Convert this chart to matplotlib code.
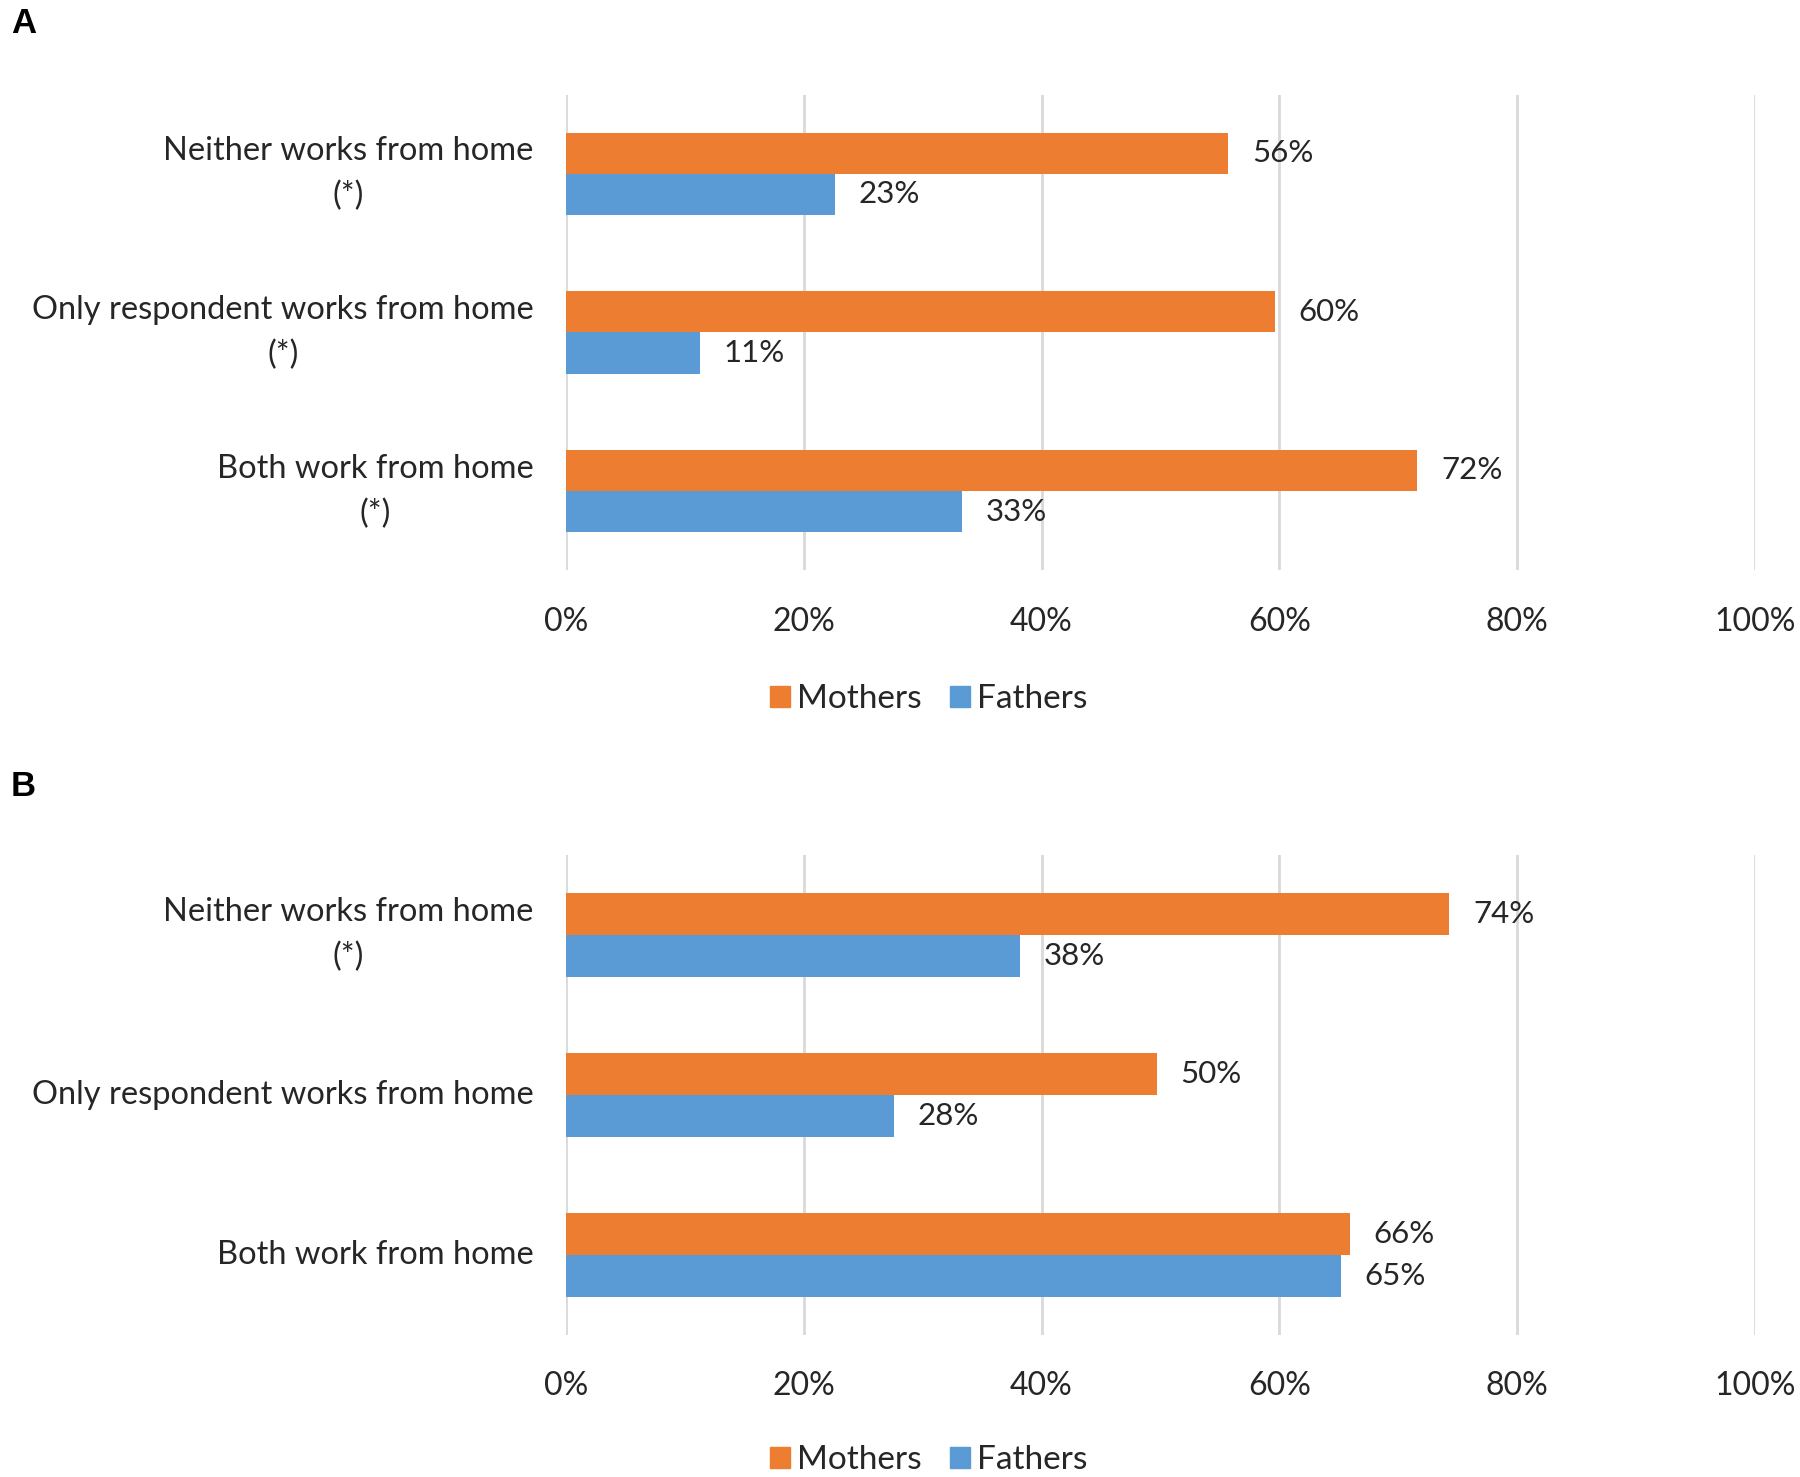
import matplotlib.pyplot as plt
import matplotlib.transforms as mtransforms
from matplotlib.patches import Patch

# values (percent); labels are the rounded values
cats_a = ["Neither works from home\n(*)", "Only respondent works from home\n(*)", "Both work from home\n(*)"]
mothers_a = [55.7, 59.6, 71.6]
fathers_a = [22.6, 11.3, 33.3]

cats_b = ["Neither works from home\n(*)", "Only respondent works from home", "Both work from home"]
mothers_b = [74.3, 49.7, 65.9]
fathers_b = [38.2, 27.6, 65.2]

x_ticks = [0, 20, 40, 60, 80, 100]
tick_labels = ["0%", "20%", "40%", "60%", "80%", "100%"]

orange = "#ED7D31"
blue = "#5B9BD5"
grid_col = "#D9D9D9"
txt_col = "#262626"

plt.rcParams['font.family'] = ['Lato', 'DejaVu Sans']

fig = plt.figure(figsize=(18, 14.77), dpi=100)


def draw_panel(ax, cats, mothers, fathers):
    pos = [2, 1, 0]  # top to bottom
    h = 0.26
    for p, m, f in zip(pos, mothers, fathers):
        ax.barh(p + h / 2, m, height=h, color=orange, zorder=3)
        ax.barh(p - h / 2, f, height=h, color=blue, zorder=3)
        ax.annotate(f"{round(m)}%", (m, p + h / 2), xytext=(17, 0), textcoords="offset points",
                    va="center", ha="left", fontsize=22.5, color=txt_col)
        ax.annotate(f"{round(f)}%", (f, p - h / 2), xytext=(17, 0), textcoords="offset points",
                    va="center", ha="left", fontsize=22.5, color=txt_col)
    ax.set_xlim(0, 100)
    ax.set_ylim(-0.5, 2.5)
    ax.set_xticks(x_ticks)
    ax.set_xticklabels(tick_labels, fontsize=23, color=txt_col)
    ax.set_yticks(pos)
    ax.set_yticklabels([])
    # category labels, right aligned against the axis, lines centred on each other
    trans = mtransforms.blended_transform_factory(ax.transAxes, ax.transData)
    for p, c in zip(pos, cats):
        ax.text(-0.027, p, c, transform=trans, ha="right", va="center",
                multialignment="center", fontsize=23.5, color=txt_col, linespacing=1.6)
    ax.tick_params(axis="both", length=0)
    ax.tick_params(axis="x", pad=26)
    for s in ax.spines.values():
        s.set_visible(False)
    ax.grid(axis="x", color=grid_col, linewidth=2, zorder=0)
    ax.set_axisbelow(True)


ax_a = fig.add_axes([0.3144, 0.6138, 0.6606, 0.3222])
draw_panel(ax_a, cats_a, mothers_a, fathers_a)

ax_b = fig.add_axes([0.3144, 0.0961, 0.6606, 0.3250])
draw_panel(ax_b, cats_b, mothers_b, fathers_b)

handles = [Patch(color=orange, label="Mothers"), Patch(color=blue, label="Fathers")]
for yy in [0.5267, 0.0115]:
    fig.legend(handles=handles, loc="center", bbox_to_anchor=(0.516, yy), ncol=2,
               frameon=False, fontsize=24, handlelength=0.6, handleheight=0.6,
               handletextpad=0.2, columnspacing=0.85, labelcolor=txt_col)

fig.text(0.006, 0.995, "A", fontsize=25, fontweight="bold", va="top", ha="left",
         family="Liberation Sans")
fig.text(0.006, 0.479, "B", fontsize=25, fontweight="bold", va="top", ha="left",
         family="Liberation Sans")

fig.savefig("out.png", dpi=100, facecolor="white")
